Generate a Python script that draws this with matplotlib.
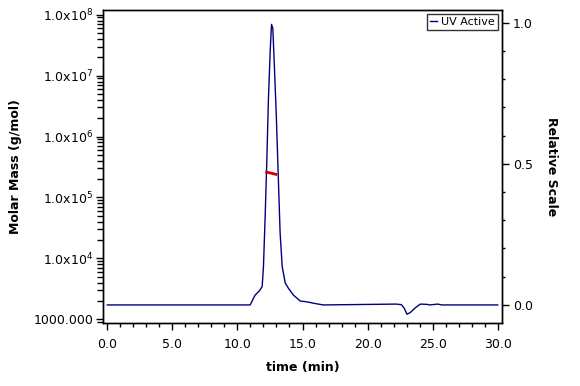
import numpy as np
import matplotlib
matplotlib.use('Agg')
import matplotlib.pyplot as plt
from matplotlib.ticker import FixedLocator, FixedFormatter, MultipleLocator, LogLocator, NullFormatter, FormatStrFormatter

plt.rcParams['font.family'] = ['DejaVu Sans']

# UV trace (time in min, relative scale)
uv_t = [0.0, 10.98, 11.36, 11.69, 11.9, 12.0, 12.13, 12.26, 12.38, 12.52, 12.62,
        12.72, 12.82, 12.98, 13.13, 13.28, 13.44, 13.67, 13.92, 14.3, 14.82,
        15.33, 15.97, 16.6, 22.2, 22.6, 22.82, 23.03, 23.28, 23.67, 24.05,
        24.57, 24.77, 25.38, 25.72, 30.0]
uv_v = [0.0, 0.0, 0.035, 0.050, 0.065, 0.136, 0.313, 0.514, 0.726, 0.903, 0.994,
        0.98, 0.868, 0.68, 0.467, 0.255, 0.136, 0.078, 0.059, 0.035, 0.014,
        0.011, 0.005, 0.0, 0.003, 0.001, -0.012, -0.033, -0.027, -0.01, 0.003,
        0.002, 0.0, 0.003, 0.0, 0.0]

# Molar mass across the peak
mm_t = [12.25, 12.6, 12.95]
mm_v = [2.6e5, 2.5e5, 2.4e5]

left_ticks = [1e3, 1e4, 1e5, 1e6, 1e7, 1e8]
left_labels = ['1000.000', r'1.0x10$^{4}$', r'1.0x10$^{5}$', r'1.0x10$^{6}$',
               r'1.0x10$^{7}$', r'1.0x10$^{8}$']

fig = plt.figure(figsize=(5.8, 3.86), dpi=100)
ax = fig.add_axes([103/580, 1-323/386, 399/580, 313/386])
ax2 = ax.twinx()

ax.set_yscale('log')
ax.set_ylim(870, 10**8.077)
ax.set_xlim(-0.33, 30.33)
ax2.set_ylim(-0.064, 1.045)

ax2.plot(uv_t, uv_v, color='#000080', lw=1.0, label='UV Active')
ax.plot(mm_t, mm_v, color='#cc0000', lw=2.0)
ax.set_zorder(ax2.get_zorder() + 1)
ax.patch.set_visible(False)

ax.yaxis.set_major_locator(FixedLocator(left_ticks))
ax.yaxis.set_major_formatter(FixedFormatter(left_labels))
ax.yaxis.set_minor_locator(LogLocator(base=10, subs=np.arange(2, 10)))
ax.yaxis.set_minor_formatter(NullFormatter())

ax.xaxis.set_major_locator(MultipleLocator(5))
ax.xaxis.set_minor_locator(MultipleLocator(1))
ax.xaxis.set_major_formatter(FormatStrFormatter('%.1f'))

ax2.yaxis.set_major_locator(FixedLocator([0.0, 0.5, 1.0]))
ax2.yaxis.set_major_formatter(FormatStrFormatter('%.1f'))
ax2.yaxis.set_minor_locator(MultipleLocator(0.1))

ax.tick_params(axis='y', which='major', length=5, width=1, labelsize=9, pad=2)
ax.tick_params(axis='y', which='minor', length=4, width=1)
ax.tick_params(axis='x', which='major', length=5, width=1, labelsize=9, pad=6)
ax.tick_params(axis='x', which='minor', length=3, width=1)
ax2.tick_params(axis='y', which='major', length=5, width=1, labelsize=9, pad=3)
ax2.tick_params(axis='y', which='minor', length=2, width=1)

for a in (ax, ax2):
    for s in a.spines.values():
        s.set_linewidth(1.0)

ax.set_xlabel('time (min)', fontweight='bold', fontsize=9, labelpad=7)
ax.set_ylabel('Molar Mass (g/mol)', fontweight='bold', fontsize=9, labelpad=8)
ax2.set_ylabel('Relative Scale', fontweight='bold', fontsize=9, rotation=-90, labelpad=18)

leg = ax2.legend(loc='upper right', fontsize=8, frameon=True, fancybox=False,
                 handlelength=0.6, handletextpad=0.4, borderpad=0.25,
                 borderaxespad=0.4)
leg.get_frame().set_edgecolor('black')
leg.get_frame().set_linewidth(1.0)

fig.savefig('out.png', dpi=100)
